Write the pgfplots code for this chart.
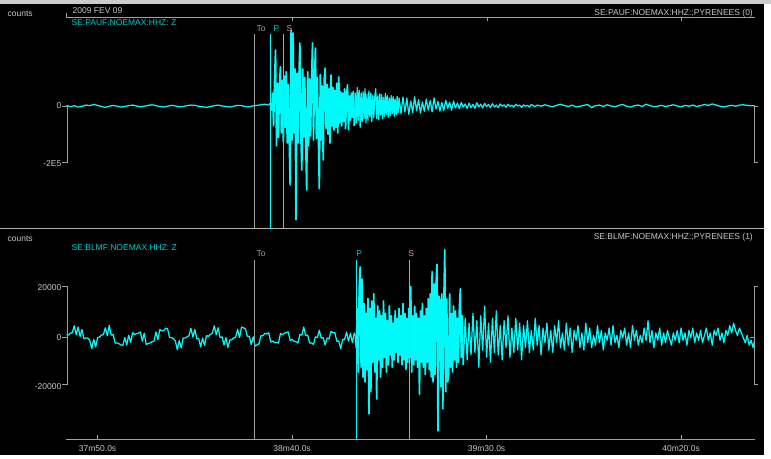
\documentclass[border=0pt]{standalone}
\usepackage{pgfplots}
\pgfplotsset{compat=1.18}
\usepackage{fontspec}
\setmainfont{Liberation Sans}

\definecolor{trace}{RGB}{0,250,250}
\definecolor{lbl}{RGB}{200,200,200}
\definecolor{axg}{RGB}{160,160,160}
\definecolor{pcol}{RGB}{0,205,205}
\definecolor{scol}{RGB}{215,150,150}

\pgfplotsset{
  seis/.style={scale only axis, width=689pt, height=211pt,
    xmin=2262, xmax=2439, anchor=south west},
  wave/.style={trace, line width=1.25pt, line join=round, mark=none},
  burst/.style={trace, line width=1.7pt, line join=round, mark=none},
}

\begin{document}
\begin{tikzpicture}[x=1pt,y=1pt,font=\fontsize{8.5}{10}\selectfont]
% frame of the viewer
\fill[white] (0,0) rectangle (771,459);
\fill[black] (0,4) rectangle (764,455);
\fill[black!20] (0,455) rectangle (771,459);
\draw[axg!80, line width=1pt] (0,230) -- (764,230);

% ---------- station 0 : PAUF (y in 1000 counts) ----------
\begin{axis}[seis, at={(66pt,230pt)}, ymin=-431.6, ymax=308.8, hide axis]
\addplot[wave] coordinates {
(2262,2)(2263,-3)(2264,1)(2265,-4)(2266,-2)(2267,3)(2268,1)(2269,5)(2270,2)(2271,-2)
(2272,-5)(2273,-1)(2274,2)(2275,-1)(2276,-4)(2277,-2)(2278,1)(2279,3)(2280,0)(2281,-3)
(2282,-1)(2283,2)(2284,4)(2285,1)(2286,-2)(2287,-4)(2288,-1)(2289,2)(2290,0)(2291,-3)
(2292,-2)(2293,1)(2294,3)(2295,2)(2296,-1)(2297,-3)(2298,-5)(2299,-2)(2300,1)(2301,3)
(2302,0)(2303,-2)(2304,-4)(2305,-1)(2306,2)(2307,1)(2308,-2)(2309,-3)(2310,0)(2311,2)
(2312,4)(2313,6)(2314,3)(2314.25,8)(2314.5,6)
};
\addplot[burst] coordinates {
(2314.5,6)(2314.75,-15)(2315,45)(2315.25,-70)(2315.5,95)(2315.75,196)(2316,-140)(2316.25,80)
(2316.5,-110)(2316.75,70)(2317,137)(2317.25,-95)(2317.5,90)(2317.75,-125)(2318,105)(2318.25,-75)
(2318.5,120)(2318.75,-130)(2319,75)(2319.25,-105)(2319.5,-277)(2319.75,266)(2320,-120)(2320.25,256)
(2320.5,-95)(2320.75,130)(2321,-400)(2321.25,115)(2321.5,-130)(2321.75,95)(2322,221)(2322.25,-100)
(2322.5,-225)(2322.75,130)(2323,-110)(2323.25,100)(2323.5,-120)(2323.75,-295)(2324,120)(2324.25,-140)
(2324.5,95)(2324.75,-105)(2325,85)(2325.25,221)(2325.5,-120)(2325.75,80)(2326,203)(2326.25,-115)
(2326.5,100)(2326.75,-95)(2327,-290)(2327.25,110)(2327.5,-120)(2327.75,70)(2328,-190)(2328.25,90)
(2328.5,133)(2328.75,-80)(2329,75)(2329.25,-100)(2329.5,60)(2329.75,-130)(2330,109)(2330.25,-70)
(2330.5,65)(2330.75,-85)(2331,55)(2331.25,-75)(2331.5,80)(2331.75,-95)(2332,102)(2332.25,-60)
(2332.5,50)(2332.75,-70)(2333,45)(2333.25,-55)(2333.5,60)(2333.75,-80)(2334,40)(2334.25,74)
(2334.5,-84)(2334.75,35)(2335,-50)(2335.25,45)(2335.5,-40)(2335.75,50)(2336,-70)
};
\addplot[wave] coordinates {
(2336,-70)(2336.25,45)(2336.5,-60)(2336.75,65)(2337,-50)(2337.25,55)(2337.5,-75)(2337.75,45)
(2338,-55)(2338.25,50)(2338.5,-45)(2338.75,60)(2339,-60)(2339.25,40)(2339.5,-50)(2339.75,52)
(2340,-38)(2340.25,45)(2340.5,-55)(2340.75,38)(2341,-42)(2341.25,32)(2341.5,60)(2341.75,-45)
(2342,35)(2342.25,-48)(2342.5,42)(2342.75,-32)(2343,40)(2343.25,-45)(2343.5,30)(2343.75,-36)
(2344,44)(2344.25,-30)(2344.5,36)(2344.75,-40)(2345,28)(2345.25,-34)(2345.5,36)(2345.75,-27)
(2346,32)(2346.25,-36)(2346.5,24)(2346.75,-30)(2347,33)(2347.25,-24)(2347.5,28)
(2348,-27)(2348.5,31)(2349,-21)(2349.5,27)(2350,-29)(2350.5,17)(2351,-24)(2351.5,32)(2352,-17)
(2352.5,22)(2353,-26)(2353.5,14)(2354,-19)(2354.5,24)(2355,-14)(2355.5,19)(2356,-21)(2356.5,28)
(2357,-11)(2357.5,16)(2358,-18)(2358.5,12)(2359,-16)(2359.5,20)(2360,-9)(2360.5,13)(2361,-15)
(2361.5,17)(2362,-7)(2362.5,10)(2363,-10)(2363.5,12)(2364,-4)(2364.5,7)(2365,-9)(2365.5,10)
(2366,-6)(2366.5,5)(2367,-8)(2367.5,11)(2368,-3)(2368.5,6)(2369,-7)(2369.5,9)(2370,-2)(2370.5,5)
(2371,-6)(2371.5,8)(2372,-4)(2372.5,3)(2373,-6)(2373.5,7)(2374,-1)(2374.5,4)(2375,-5)(2375.5,6)
(2376,-2)(2376.5,3)(2377,-4)(2377.5,6)(2378,0)(2378.5,3)(2379,-5)(2379.5,4)(2380,-1)(2380.5,2)
(2381,-4)(2381.5,5)(2382,1)(2382.5,-2)
(2383,3)(2384,-1)(2385,4)(2386,0)(2387,-3)(2388,2)(2389,6)(2390,1)(2391,-2)(2392,3)
(2393,-4)(2394,-1)(2395,2)(2396,5)(2397,-6)(2398,1)(2399,3)(2400,-2)(2401,4)(2402,0)
(2403,-3)(2404,2)(2405,5)(2406,-1)(2407,-4)(2408,1)(2409,3)(2410,-2)(2411,6)(2412,1)
(2413,-3)(2414,-1)(2415,2)(2416,-2)(2417,1)(2418,4)(2419,0)(2420,-3)(2421,2)(2422,-1)
(2423,3)(2424,-2)(2425,1)(2426,5)(2427,2)(2428,7)(2429,3)(2430,-1)(2431,-4)(2432,0)
(2433,2)(2434,-1)(2435,3)(2436,4)(2437,2)(2438,1)(2439,0)
};
% picks: origin, P, S
\addplot[axg, line width=0.8pt] coordinates {(2310.2,253)(2310.2,-440)};
\addplot[trace, line width=0.8pt] coordinates {(2314.5,253)(2314.5,-440)};
\addplot[scol, line width=0.8pt] coordinates {(2317.8,253)(2317.8,-440)};
\end{axis}

% ---------- station 1 : BLMF (y in 1000 counts) ----------
\begin{axis}[seis, at={(66pt,19pt)}, ymin=-41.6, ymax=44.5,
  axis x line*=bottom, axis y line=none,
  x axis line style={axg, line width=0.8pt},
  xtick={2270,2320,2370,2420},
  xticklabels={37m50.0s,38m40.0s,39m30.0s,40m20.0s},
  xtick align=inside, major tick length=5pt,
  tick style={axg, line width=0.8pt},
  xticklabel style={text=lbl, font=\fontsize{8.5}{10}\selectfont, yshift=-2.5pt}]
\addplot[wave] coordinates {
(2262,1.4)(2262.5,1.1)(2263,1.9)(2263.5,2.1)(2264,4.9)(2264.5,1.3)(2265,4.4)(2265.5,0.6)(2266,3.4)(2266.5,-0.4)
(2267,-0.1)(2267.5,-0.1)(2268,-1.1)(2268.5,-4.4)(2269,-0.6)(2269.5,-3.7)(2270,0.1)(2270.5,0.3)(2271,1.1)(2271.5,1.3)
(2272,4.1)(2272.5,0.9)(2273,5.1)(2273.5,1.1)(2274,1.4)(2274.5,-2.1)(2275,-2.1)(2275.5,-2.4)(2276,-2.9)(2276.5,-3.1)
(2277,0.1)(2277.5,-2.9)(2278,1.1)(2278.5,-1.9)(2279,2.1)(2279.5,1.3)(2280,1.7)(2280.5,1.9)(2281,2.4)(2281.5,-1.4)
(2282,1.9)(2282.5,-2.7)(2283,-2.3)(2283.5,-2.1)(2284,-1.6)(2284.5,-1.4)(2285,2.4)(2285.5,-0.7)(2286,3.4)(2286.5,2.9)
(2287,2.9)(2287.5,3.9)(2288,3.7)(2288.5,0.1)(2289,0.1)(2289.5,-0.4)(2290,-1.3)(2290.5,-4.9)(2291,-1.1)(2291.5,-4.1)
(2292,-0.1)(2292.5,-0.1)(2293,0.4)(2293.5,0.9)(2294,3.9)(2294.5,0.3)(2295,3.4)(2295.5,-0.4)(2296,-0.3)(2296.5,-3.7)
(2297,-0.1)(2297.5,-3.1)(2298,0.9)(2298.5,0.6)(2299,1.4)(2299.5,1.9)(2300,4.9)(2300.5,1.3)(2301,4.1)(2301.5,0.1)
(2302,0.4)(2302.5,-2.9)(2303,0.1)(2303.5,-3.9)(2304,-0.9)(2304.5,-0.7)(2305,-0.1)(2305.5,0.3)(2306,3.4)(2306.5,0.1)
(2307,4.4)(2307.5,4.1)(2308,3.7)(2308.5,0.6)(2309,0.7)(2309.5,-2.7)(2310,0.4)(2310.5,-3.4)(2311,-2.9)(2311.5,-2.4)
(2312,0.9)(2312.5,0.9)(2313,1.7)(2313.5,1.6)(2314,2.1)(2314.5,-1.7)(2315,-1.3)(2315.5,-1.9)(2316,-1.9)(2316.5,-2.1)
(2317,1.7)(2317.5,1.3)(2318,1.9)(2318.5,2.1)(2319,2.4)(2319.5,-1.1)(2320,-0.6)(2320.5,-1.4)(2321,-1.6)(2321.5,-2.1)
(2322,1.4)(2322.5,1.1)(2323,4.4)(2323.5,0.9)(2324,1.1)(2324.5,-2.1)(2325,-2.1)(2325.5,-2.7)(2326,0.4)(2326.5,0.1)
(2327,3.1)(2327.5,-0.1)(2328,0.1)(2328.5,-2.9)(2329,-0.1)(2329.5,-0.4)(2330,2.7)(2330.5,2.1)(2331,2.1)(2331.5,-1.4)
(2332,-1.3)(2332.5,-4.4)(2333,-0.6)(2333.5,-0.7)(2334,2.4)(2334.5,-1.4)(2335,1.9)(2335.5,-1.9)(2336,2)(2336.25,1)
};
\addplot[burst] coordinates {
(2336.25,1)(2336.5,-4)(2336.75,12)(2337,-14)(2337.25,20)(2337.5,29)(2337.75,-12)(2338,24)(2338.25,-16)(2338.5,14)
(2338.75,-18)(2339,10)(2339.25,-13)(2339.5,16)(2339.75,-31)(2340,12)(2340.25,-22)(2340.5,15)(2340.75,-10)(2341,18)
(2341.25,-14)(2341.5,8)(2341.75,-25)(2342,13)(2342.25,-9)(2342.5,11)(2342.75,-16)(2343,9)(2343.25,-12)(2343.5,15)
(2343.75,-8)(2344,10)(2344.25,-14)(2344.5,7)(2344.75,-11)(2345,13)(2345.25,-7)(2345.5,9)(2345.75,-12)(2346,6)
(2346.25,-9)(2346.5,11)(2346.75,-6)(2347,8)(2347.25,-10)(2347.5,12)(2347.75,-7)(2348,9)(2348.25,-11)(2348.5,14)
(2348.75,-9)(2349,10)(2349.25,-13)(2349.5,8)(2349.75,-10)(2350,12)(2350.25,-8)(2350.5,21)(2350.75,-14)(2351,9)
(2351.25,-11)(2351.5,13)(2351.75,-9)(2352,10)(2352.25,-12)(2352.5,8)(2352.75,-23)(2353,11)(2353.25,-10)(2353.5,14)
(2353.75,-12)(2354,9)(2354.25,-15)(2354.5,12)(2354.75,-10)(2355,16)(2355.25,-13)(2355.5,18)(2355.75,-16)(2356,27)
(2356.25,-18)(2356.5,22)(2356.75,-15)(2357,22)(2357.25,30)(2357.5,-38)(2357.75,17)(2358,15)(2358.25,-20)(2358.5,18)
(2358.75,-29)(2359,14)(2359.25,36)(2359.5,-22)(2359.75,16)(2360,-18)(2360.25,-15)(2360.5,18)(2360.75,-12)(2361,10)
(2361.25,-14)(2361.5,13)(2361.75,-9)(2362,11)(2362.25,-12)(2362.5,8)(2362.75,-10)(2363,12)(2363.25,20)(2363.5,-8)
(2363.75,9)(2364,-11)
};
\addplot[wave] coordinates {
(2364,-11)(2364.5,8)(2365,-9)(2365.5,6)(2366,-7)(2366.5,10)(2367,-6)(2367.5,7)(2368,-12)(2368.5,9)(2369,-5)
(2369.5,13)(2370,-8)(2370.5,6)(2371,-10)(2371.5,8)(2372,-6)(2372.5,11)(2373,-7)(2373.5,5)(2374,-9)
(2374.5,7)(2375,-4)(2375.5,9)(2376,-8)(2376.5,4)(2377,-6)(2377.5,8)(2378,-5)(2378.5,6)(2379,-9)
(2379.5,5)(2380,-4)(2380.5,7)(2381,-6)(2381.5,3)(2382,-5)(2382.5,8)(2383,-3)(2383.5,5)(2384,-7)
(2384.5,4)(2385,-2)(2385.5,6)(2386,-5)(2386.5,3)(2387,-6)(2387.5,5)(2388,-2)(2388.5,7)(2389,-4)
(2389.5,2)(2390,-5)(2390.5,6)(2391,-3)(2391.5,4)(2392,-6)(2392.5,3)(2393,-1)(2393.5,5)(2394,-4)
(2394.5,2)(2395,-5)(2395.5,6)(2396,-2)(2396.5,4)(2397,-4)(2397.5,1)(2398,-3)(2398.5,5)(2399,-2)
(2399.5,3)(2400,-5)(2400.5,2)(2401,-1)(2401.5,4)(2402,-3)(2402.5,5)(2403,-2)(2403.5,1)(2404,-4)
(2404.5,3)(2405,0)(2405.5,4)(2406,-3)(2406.5,2)(2407,-4)(2407.5,5)(2408,-1)(2408.5,3)(2409,-3)
(2409.5,1)(2410,-2)(2410.5,4)(2411,-1)(2411.5,7)(2412,-2)(2412.5,3)(2413,-4)(2413.5,2)(2414,-1)
(2414.5,4)(2415,-3)(2415.5,2)(2416,-2)(2416.5,3)(2417,0)(2417.5,-3)(2418,2)(2418.5,-1)(2419,3)
(2419.5,-2)(2420,4)(2420.5,-1)(2421,2)(2421.5,-3)(2422,3)(2422.5,0)(2423,4)(2423.5,-2)(2424,2)
(2424.5,-1)(2425,3)(2425.5,-2)(2426,1)(2426.5,4)(2427,-1)(2427.5,2)(2428,-3)(2428.5,3)(2429,1)
(2429.5,4)(2430,-1)(2430.5,2)(2431,-2)(2431.5,3)(2432,1)(2432.5,5)(2433,2)(2433.5,6)(2434,3)
(2434.5,1)(2435,4)(2435.5,2)(2436,0)(2436.5,-2)(2437,1)(2437.5,-3)(2438,-1)(2438.5,-4)(2439,0)
};
\addplot[axg, line width=0.8pt] coordinates {(2310.2,31.8)(2310.2,-41.6)};
\addplot[trace, line width=0.8pt] coordinates {(2336.5,31.8)(2336.5,-41.6)};
\addplot[scol, line width=0.8pt] coordinates {(2350.1,31.8)(2350.1,-41.6)};
\end{axis}

% ---------- header, labels and amplitude scales ----------
\draw[axg, line width=0.8pt] (66,446) -- (66,442) -- (755,442);
\foreach \xx in {292,487,681} \draw[axg, line width=0.8pt] (\xx,442) -- (\xx,438);
\node[anchor=west, inner sep=0, text=lbl] at (7,445) {counts};
\node[anchor=west, inner sep=0, text=lbl] at (72,448.5) {2009 FEV 09};
\node[anchor=west, inner sep=0, text=pcol] at (71,436) {SE:PAUF:NOEMAX:HHZ: Z};
\node[anchor=east, inner sep=0, text=lbl] at (753,446) {SE:PAUF:NOEMAX:HHZ:;PYRENEES (0)};
\node[anchor=west, inner sep=0, text=lbl] at (7,220) {counts};
\node[anchor=west, inner sep=0, text=pcol] at (71,211) {SE:BLMF:NOEMAX:HHZ: Z};
\node[anchor=east, inner sep=0, text=lbl] at (753,222) {SE:BLMF:NOEMAX:HHZ:;PYRENEES (1)};

\node[anchor=west, inner sep=0, text=axg] at (256,430) {To};
\node[anchor=west, inner sep=0, text=pcol] at (273,430) {P};
\node[anchor=west, inner sep=0, text=scol] at (286,430) {S};
\node[anchor=west, inner sep=0, text=axg] at (256,205) {To};
\node[anchor=west, inner sep=0, text=pcol] at (356,205) {P};
\node[anchor=west, inner sep=0, text=scol] at (408,205) {S};

\draw[axg, line width=0.8pt] (62,353) -- (66.5,353) -- (66.5,296) -- (62,296);
\node[anchor=east, inner sep=0, text=lbl] at (61,353) {0};
\node[anchor=east, inner sep=0, text=lbl] at (61,295) {-2E5};
\draw[axg, line width=0.8pt] (758,353) -- (754,353) -- (754,296) -- (758,296);

\draw[axg, line width=0.8pt] (62,172) -- (66.5,172) -- (66.5,74) -- (62,74);
\draw[axg, line width=0.8pt] (62,121) -- (66.5,121);
\node[anchor=east, inner sep=0, text=lbl] at (61,171) {20000};
\node[anchor=east, inner sep=0, text=lbl] at (61,121) {0};
\node[anchor=east, inner sep=0, text=lbl] at (61,72) {-20000};
\draw[axg, line width=0.8pt] (758,172) -- (754,172) -- (754,74) -- (758,74);
\draw[axg, line width=0.8pt] (750,121) -- (754,121);
\end{tikzpicture}
\end{document}
